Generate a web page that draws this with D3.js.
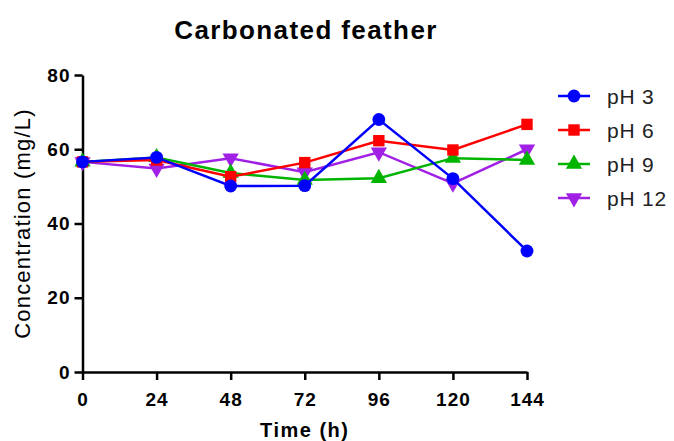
<!DOCTYPE html>
<html>
<head>
<meta charset="utf-8">
<script src="https://cdn.jsdelivr.net/npm/d3@7.9.0/dist/d3.min.js"></script>
<style>
  body { margin: 0; background: #fff; }
  text { font-family: "Liberation Sans", Arial, sans-serif; }
</style>
</head>
<body>
<svg id="chart" width="674" height="441"></svg>
<script>
// data
const hours = [0, 24, 48, 72, 96, 120, 144];
const xTicks = [0, 24, 48, 72, 96, 120, 144];
const yTicks = [0, 20, 40, 60, 80];
const seriesNames = ['pH 3', 'pH 6', 'pH 9', 'pH 12'];
const ph3 = [56.6, 57.8, 50.1, 50.2, 68.0, 52.1, 32.6];
const ph6 = [56.6, 57.1, 52.6, 56.4, 62.3, 59.8, 66.7];
const ph9 = [56.6, 57.8, 53.6, 51.7, 52.2, 57.6, 57.1];
const ph12 = [56.6, 54.8, 57.6, 53.8, 59.2, 50.8, 60.0];
const colors = ['#0000ff', '#ff0000', '#00b400', '#a020e6'];
const symbols = [d3.symbolCircle, d3.symbolSquare, d3.symbolTriangle, d3.symbolTriangle];

const allSeries = [ph3, ph6, ph9, ph12];

const svg = d3.select('#chart');
const margin = { left: 82.5, right: 147, top: 75, bottom: 69 };
const width = 674 - margin.left - margin.right;
const height = 441 - margin.top - margin.bottom;

const x = d3.scaleLinear().domain([0, 144]).range([margin.left, margin.left + width]);
const y = d3.scaleLinear().domain([0, 80]).range([margin.top + height, margin.top]);

// title
svg.append('text')
  .attr('x', 306).attr('y', 39)
  .attr('text-anchor', 'middle')
  .style('font-size', '26px').style('font-weight', 'bold')
  .style('letter-spacing', '1.4px')
  .text('Carbonated feather');

// axes
const xAxis = svg.append('g')
  .attr('transform', `translate(0,${margin.top + height})`)
  .call(d3.axisBottom(x).tickValues(xTicks).tickSize(8).tickPadding(6).tickSizeOuter(0));
const yAxis = svg.append('g')
  .attr('transform', `translate(${margin.left},0)`)
  .call(d3.axisLeft(y).tickValues(yTicks).tickSize(8).tickPadding(4).tickSizeOuter(0));

[xAxis, yAxis].forEach(g => {
  g.select('.domain').attr('stroke', '#000').attr('stroke-width', 2.5);
  g.selectAll('.tick line').attr('stroke', '#000').attr('stroke-width', 2.5);
  g.selectAll('.tick text')
    .attr('fill', '#000')
    .style('font-size', '19px').style('font-weight', 'bold')
    .style('letter-spacing', '1px');
});
xAxis.selectAll('.tick text').attr('dy', '1.05em');

// axis titles
svg.append('text')
  .attr('x', x(72)).attr('y', 437)
  .attr('text-anchor', 'middle')
  .style('font-size', '20px').style('font-weight', 'bold')
  .style('letter-spacing', '1.5px')
  .text('Time (h)');
svg.append('text')
  .attr('transform', `translate(30,${y(40)}) rotate(-90)`)
  .attr('text-anchor', 'middle')
  .style('font-size', '22px')
  .style('letter-spacing', '1.2px')
  .text('Concentration (mg/L)');

const line = d3.line().x((d, i) => x(hours[i])).y(d => y(d));

function markerPath(k, size) {
  return d3.symbol().type(symbols[k]).size(size)();
}
const markerSize = [130, 130, 115, 115];
const markerRot = [0, 0, 0, 180];

// draw back to front: pH 12, pH 9, pH 6, pH 3
for (let k = allSeries.length - 1; k >= 0; k--) {
  const vals = allSeries[k];
  const g = svg.append('g');
  g.append('path')
    .attr('d', line(vals))
    .attr('fill', 'none')
    .attr('stroke', colors[k])
    .attr('stroke-width', 2.5);
  g.selectAll('path.mark')
    .data(vals)
    .join('path')
    .attr('class', 'mark')
    .attr('d', markerPath(k, markerSize[k]))
    .attr('transform', (d, i) => `translate(${x(hours[i])},${y(d)}) rotate(${markerRot[k]})`)
    .attr('fill', colors[k]);
}

// legend
const legend = svg.append('g').attr('transform', 'translate(558,96)');
seriesNames.forEach((name, k) => {
  const row = legend.append('g').attr('transform', `translate(0,${k * 34})`);
  row.append('line')
    .attr('x1', 0).attr('x2', 32)
    .attr('stroke', colors[k]).attr('stroke-width', 2.5);
  row.append('path')
    .attr('d', markerPath(k, markerSize[k]))
    .attr('transform', `translate(16,0) rotate(${markerRot[k]})`)
    .attr('fill', colors[k]);
  row.append('text')
    .attr('x', 49).attr('y', 0).attr('dy', '0.36em')
    .style('font-size', '21px')
    .style('letter-spacing', '0.8px')
    .attr('fill', '#222')
    .text(name);
});
</script>
</body>
</html>
